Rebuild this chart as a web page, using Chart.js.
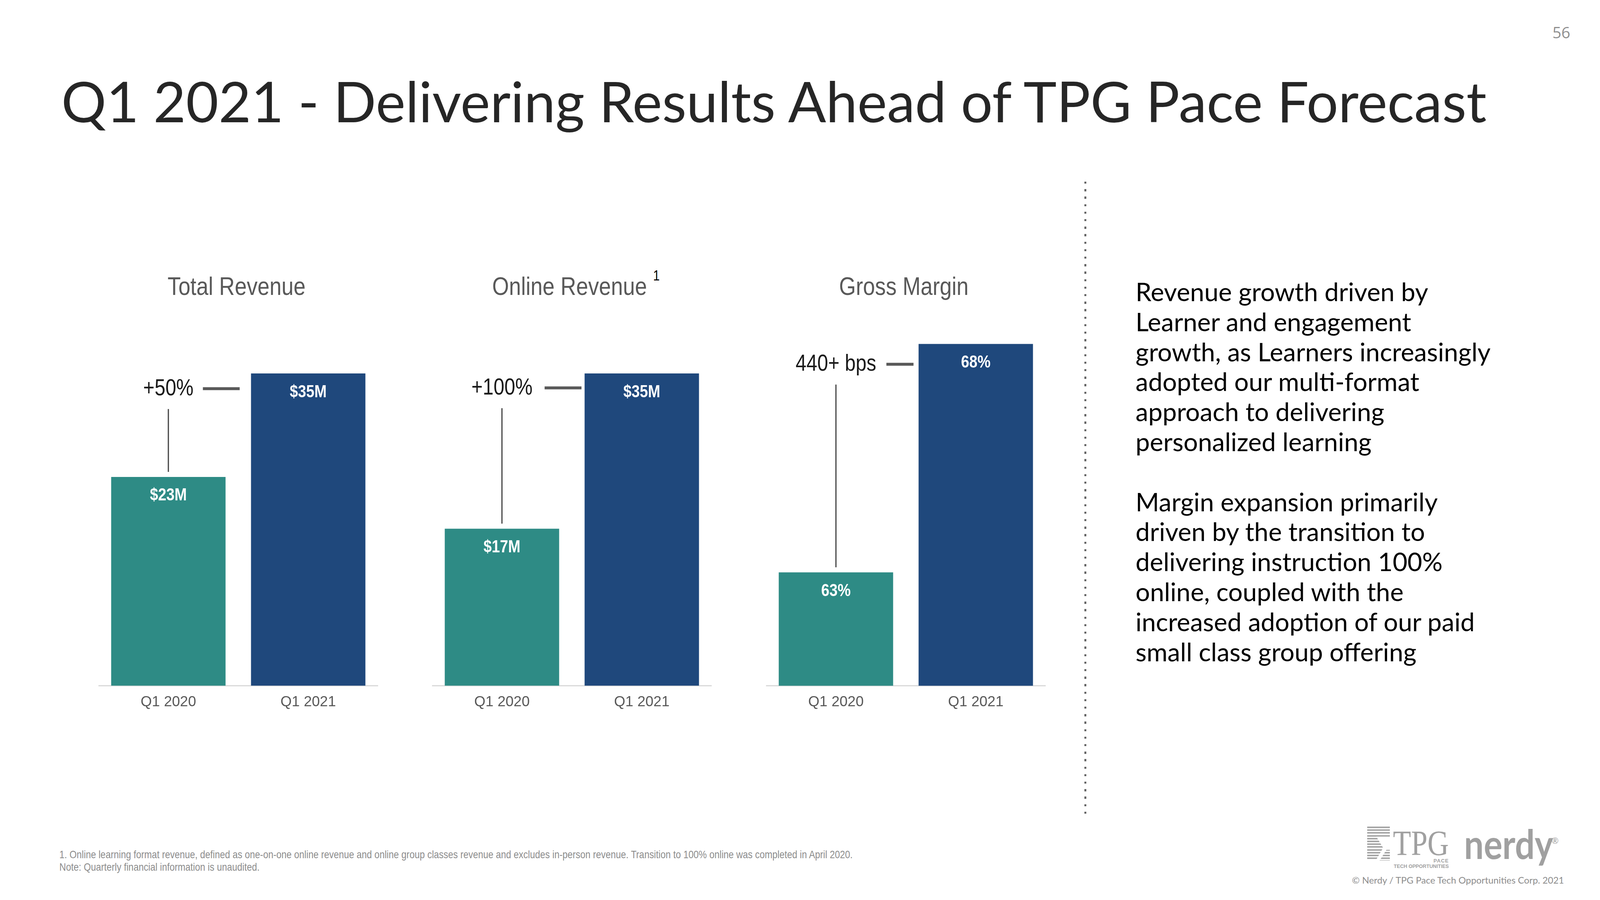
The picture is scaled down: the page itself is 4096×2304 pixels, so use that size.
<!DOCTYPE html>
<html><head><meta charset="utf-8">
<script src="https://cdn.jsdelivr.net/npm/chart.js@4.4.1/dist/chart.umd.min.js"></script>
<style>
html,body{margin:0;padding:0;background:#fff;}
body{width:4096px;height:2304px;position:relative;overflow:hidden;}
.t{position:absolute;white-space:nowrap;line-height:1;left:0;top:0;}
canvas{position:absolute;}
#dots{position:absolute;}
</style></head><body>
<script>
// ---------------- data ----------------
const categories = ['Q1 2020', 'Q1 2021'];
const panelTitles = ['Total Revenue', 'Online Revenue', 'Gross Margin'];
const totalRevenue = [23.4, 35.0];
const onlineRevenue = [17.6, 35.0];
const grossMargin = [63.0, 68.0];
const totalRevenueLabels = ['$23M', '$35M'];
const onlineRevenueLabels = ['$17M', '$35M'];
const grossMarginLabels = ['63%', '68%'];
const changeLabels = ['+50%', '+100%', '440+ bps'];
const titleText = 'Q1 2021 - Delivering Results Ahead of TPG Pace Forecast';
const para1 = ['Revenue growth driven by', 'Learner and engagement', 'growth, as Learners increasingly', 'adopted our multi-format', 'approach to delivering', 'personalized learning'];
const para2 = ['Margin expansion primarily', 'driven by the transition to', 'delivering instruction 100%', 'online, coupled with the', 'increased adoption of our paid', 'small class group offering'];
const footnotes = ['1. Online learning format revenue, defined as one-on-one online revenue and online group classes revenue and excludes in-person revenue. Transition to 100% online was completed in April 2020.', 'Note: Quarterly financial information is unaudited.'];
const copyright = '\u00A9 Nerdy / TPG Pace Tech Opportunities Corp. 2021';
const pageNumber = '56';

// ---------------- styles ----------------
const NARROW = "'Liberation Sans Narrow','Arial Narrow','Liberation Sans',Arial,sans-serif";
const SANS = "Lato,'Open Sans',sans-serif";
const TEAL = '#2e8b85';
const NAVY = '#1f487c';
const SQUEEZE = 0.84;

function addText(str, o) {
  const el = document.createElement('div');
  el.className = 't';
  el.textContent = str;
  el.style.fontFamily = o.family || SANS;
  el.style.fontSize = o.size + 'px';
  el.style.fontWeight = o.weight || 'normal';
  el.style.color = o.color || '#000';
  if (o.spacing) el.style.letterSpacing = o.spacing + 'px';
  const mk = document.createElement('span');
  mk.style.cssText = 'display:inline-block;width:0;height:0;vertical-align:baseline;';
  el.appendChild(mk);
  document.body.appendChild(el);
  let sx = o.sx || 1;
  let w = el.getBoundingClientRect().width;
  if (o.fit) { o.size = o.size * o.fit / (w * sx); el.style.fontSize = o.size + 'px'; w = el.getBoundingClientRect().width; }
  if (o.fitX) sx = o.fitX / w;
  if (sx !== 1) { el.style.transformOrigin = '0 0'; el.style.transform = 'scaleX(' + sx + ')'; }
  const ww = w * sx;
  let left = o.x;
  if (o.align === 'center') left = o.x - ww / 2;
  if (o.align === 'right') left = o.x - ww;
  el.style.left = left + 'px';
  const off = mk.getBoundingClientRect().top - el.getBoundingClientRect().top;
  el.style.top = (o.baseline - off) + 'px';
  return {el, size: o.size, width: ww};
}
function measure(str, font) {
  const c = document.createElement('canvas').getContext('2d');
  c.font = font; return c.measureText(str).width;
}

// page number & title
addText(pageNumber, {x: 3997, baseline: 98, size: 40, color: '#8f8f8f', family: "'Open Sans',sans-serif", align: 'center'});
addText(titleText, {x: 157, baseline: 313, size: 160, color: '#262626', fit: 3649});

// right-hand text
const wideSize = 70 * 909 / measure(para1[2], '70px ' + SANS);
para1.forEach((s, i) => addText(s, {x: 2907, baseline: 771 + i * 76.8, size: wideSize, color: '#000'}));
para2.forEach((s, i) => addText(s, {x: 2907, baseline: 1308.6 + i * 76.8, size: wideSize, color: '#000'}));

// dotted divider
const dots = document.createElement('div');
dots.id = 'dots';
dots.style.cssText = 'left:2776px;top:465px;width:5.4px;height:1632px;background:repeating-linear-gradient(to bottom,#666 0,#666 5.4px,transparent 5.4px,transparent 19.2px);';
document.body.appendChild(dots);

// footnotes
const fn = addText(footnotes[0], {x: 151.5, baseline: 2197, size: 26, color: '#8c8c8c', family: NARROW, fit: 2032, sx: SQUEEZE});
addText(footnotes[1], {x: 151.5, baseline: 2229, size: fn.size, color: '#8c8c8c', family: NARROW, sx: SQUEEZE});

// logo
const stripes = document.createElement('div');
stripes.style.cssText = 'position:absolute;left:3500px;top:2116px;width:58px;height:99px;background:repeating-linear-gradient(to bottom,#a6a6a6 0,#a6a6a6 4px,transparent 4px,transparent 7.2px);clip-path:polygon(0 0,100% 0,100% 22%,0 22%,0 26%,40% 26%,70% 55%,40% 85%,0 85%,0 100%,100% 100%,100% 60%,85% 60%,55% 88%,100% 88%,100% 100%,0 100%);';
document.body.appendChild(stripes);
const stripes2 = document.createElement('div');
stripes2.style.cssText = 'position:absolute;left:3500px;top:2116px;width:58px;height:99px;background:repeating-linear-gradient(to bottom,#a6a6a6 0,#a6a6a6 4px,transparent 4px,transparent 7.2px);clip-path:polygon(0 22%,100% 22%,100% 26%,40% 26%,40% 26%,70% 55%,40% 85%,0 85%);';
document.body.appendChild(stripes2);
addText('TPG', {x: 3566, baseline: 2189, size: 91, color: '#a0a0a0', family: "'Liberation Serif',serif", fitX: 143});
addText('PACE', {x: 3709, baseline: 2208, size: 13, weight: 'bold', color: '#a0a0a0', family: "'Liberation Sans',sans-serif", align: 'right', spacing: 1});
addText('TECH OPPORTUNITIES', {x: 3568, baseline: 2222, size: 13, weight: 'bold', color: '#a0a0a0', family: "'Liberation Sans',sans-serif", fitX: 141});
addText('nerdy', {x: 3748, baseline: 2199, size: 103, weight: 'bold', color: '#a0a0a0', family: SANS, fitX: 228});
addText('\u00AE', {x: 3981, baseline: 2160, size: 22, color: '#a0a0a0', family: SANS, align: 'center'});
addText(copyright, {x: 3461, baseline: 2262, size: 26, color: '#8c8c8c', family: SANS, fit: 543});

// panel titles
const titleCenters = [606, 1458, 2314];
panelTitles.forEach((s, i) => addText(s, {x: titleCenters[i], baseline: 755, size: 65, color: '#595959', family: NARROW, align: 'center', sx: 0.85}));
addText('1', {x: 1680, baseline: 718, size: 36, color: '#000', family: NARROW, align: 'center', sx: SQUEEZE});

// ---------------- charts ----------------
const panels = [
  {values: totalRevenue, labels: totalRevenueLabels, change: changeLabels[0], min: 0, max: 40.26, annOff: 39, gapL: 24, gapR: 29},
  {values: onlineRevenue, labels: onlineRevenueLabels, change: changeLabels[1], min: 0, max: 40.26, annOff: 37, gapL: 31, gapR: 8},
  {values: grossMargin, labels: grossMarginLabels, change: changeLabels[2], min: 60.52, max: 68.38, annOff: 52, gapL: 26, gapR: 13}
];

function squeezedText(ctx, str, x, y, s) {
  ctx.save();
  ctx.translate(x, y);
  ctx.scale(s, 1);
  ctx.fillText(str, 0, 0);
  ctx.restore();
  return ctx.measureText(str).width * s;
}

const barAnnotations = {
  id: 'barAnnotations',
  afterDatasetsDraw(chart, args, opts) {
    const ctx = chart.ctx;
    const bars = chart.getDatasetMeta(0).data;
    const p = opts.panel;
    ctx.save();
    ctx.textAlign = 'center';
    ctx.textBaseline = 'middle';
    // value labels inside bars
    ctx.font = 'bold 45px ' + NARROW;
    ctx.fillStyle = '#ffffff';
    bars.forEach((b, i) => squeezedText(ctx, p.labels[i], b.x, b.y + 48, 0.84));
    // change annotation
    const b1 = bars[0], b2 = bars[1];
    const y = b2.y + p.annOff;
    ctx.font = '60px ' + NARROW;
    ctx.fillStyle = '#1a1a1a';
    const w = squeezedText(ctx, p.change, b1.x, y, 0.83);
    ctx.strokeStyle = '#595959';
    ctx.lineWidth = 7.5;
    ctx.beginPath();
    ctx.moveTo(b1.x + w / 2 + p.gapL, y);
    ctx.lineTo(b2.x - b2.width / 2 - p.gapR, y);
    ctx.stroke();
    ctx.strokeStyle = '#404040';
    ctx.lineWidth = 3;
    ctx.beginPath();
    ctx.moveTo(b1.x, y + 52);
    ctx.lineTo(b1.x, b1.y - 13);
    ctx.stroke();
    ctx.restore();
  }
};

panels.forEach((p, i) => {
  const cv = document.createElement('canvas');
  cv.width = 716; cv.height = 1010;
  cv.style.left = (252.1 + 854.2 * i) + 'px';
  cv.style.top = '836px';
  cv.style.width = '716px'; cv.style.height = '1010px';
  document.body.appendChild(cv);
  new Chart(cv, {
    type: 'bar',
    data: {
      labels: categories,
      datasets: [{data: p.values, backgroundColor: [TEAL, NAVY], borderWidth: 0, categoryPercentage: 1, barPercentage: 0.818}]
    },
    options: {
      responsive: false, animation: false, devicePixelRatio: 1,
      layout: {padding: 0},
      plugins: {legend: {display: false}, tooltip: {enabled: false}, title: {display: false}, barAnnotations: {panel: p}},
      scales: {
        x: {
          grid: {display: false, drawTicks: false},
          border: {display: true, color: '#d9d9d9', width: 3},
          ticks: {font: {family: NARROW, size: 37}, color: '#595959', padding: 20},
          afterFit: s => { s.height = 90.6; }
        },
        y: {display: false, min: p.min, max: p.max}
      }
    },
    plugins: [barAnnotations]
  });
});
</script>
</body></html>
